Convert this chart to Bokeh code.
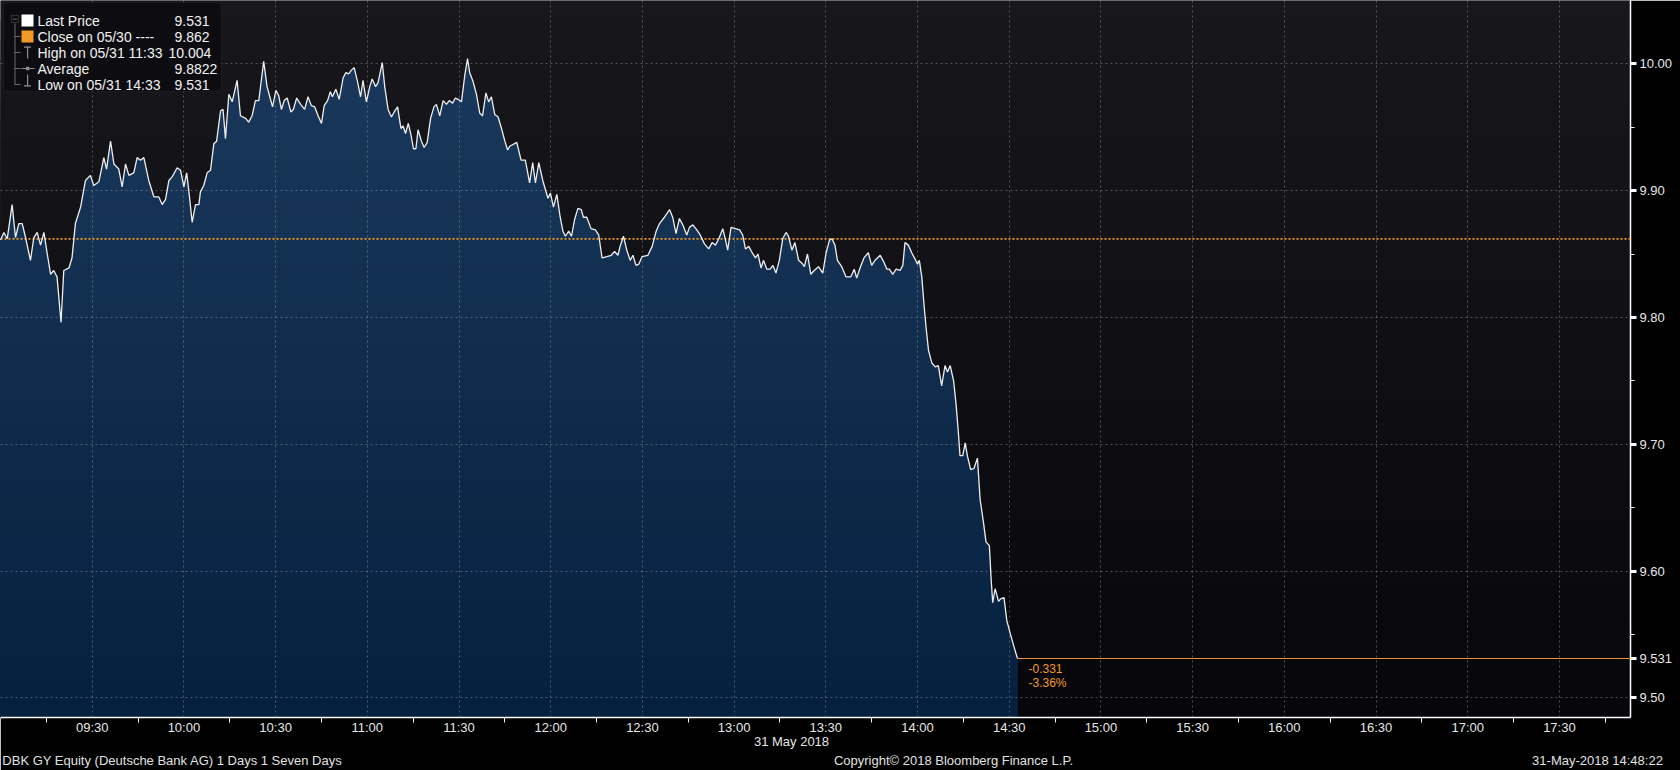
import numpy as np
from bokeh.plotting import figure
from bokeh.models import Range1d, FixedTicker, NumeralTickFormatter, Label, BoxAnnotation, Span, LinearAxis
from bokeh.embed import file_html
from bokeh.resources import INLINE

# ---------------- data (minutes after 09:00, price in EUR) ----------------
t_0900_0925 = [0.0, 1.1, 2.2, 3.8, 4.9, 6.0, 7.1, 8.2, 9.8, 10.9,
               12.0, 13.1, 14.2, 15.3, 16.4, 17.4, 18.5, 19.8, 20.7, 22.4,
               23.4, 24.5, 26.2, 27.8, 29.4, 30.5, 32.2, 33.8, 34.7, 36.0,
               37.1, 38.7, 39.8, 40.9, 42.0, 43.6, 44.7, 45.8, 46.9, 48.5,
               50.2, 51.8, 52.9, 54.0, 55.1, 56.2, 57.8, 58.9, 60.0, 60.9,
               61.6, 62.7, 63.8, 64.9, 65.4, 66.5, 67.6, 68.7, 69.8, 70.7,
               72.0, 72.8, 73.6, 74.7, 75.8, 77.4, 78.5, 80.2, 81.2, 82.3,
               83.4, 84.5]
p_0900_0925 = [9.861, 9.867, 9.862, 9.889, 9.863, 9.874, 9.874, 9.863, 9.845, 9.863,
               9.867, 9.857, 9.867, 9.850, 9.834, 9.837, 9.832, 9.796, 9.837, 9.839,
               9.847, 9.874, 9.887, 9.908, 9.912, 9.904, 9.907, 9.926, 9.917, 9.939,
               9.921, 9.917, 9.903, 9.921, 9.912, 9.914, 9.926, 9.924, 9.926, 9.908,
               9.895, 9.895, 9.889, 9.893, 9.908, 9.911, 9.918, 9.916, 9.903, 9.914,
               9.900, 9.875, 9.889, 9.889, 9.899, 9.904, 9.914, 9.916, 9.937, 9.939,
               9.963, 9.964, 9.941, 9.976, 9.970, 9.987, 9.959, 9.957, 9.954, 9.959,
               9.971, 9.971]

t_1026_1147 = [86.1, 87.2, 88.1, 89.0, 90.1, 91.0, 91.9, 92.8, 93.8, 95.0,
               95.8, 96.9, 98.2, 99.5, 100.6, 101.7, 102.8, 103.9, 105.0, 105.9,
               107.0, 107.9, 108.6, 109.7, 110.8, 112.1, 113.0, 113.9, 114.8, 115.7,
               116.8, 117.8, 118.6, 119.7, 120.8, 121.6, 122.7, 123.5, 124.9, 125.7,
               126.8, 127.9, 128.8, 129.9, 131.0, 131.7, 132.5, 133.4, 134.2, 135.1,
               135.9, 136.6, 137.7, 138.6, 139.6, 140.7, 141.8, 142.6, 143.7, 144.8,
               145.9, 146.8, 147.9, 148.8, 149.7, 150.8, 151.9, 152.8, 153.5, 154.6,
               155.7, 156.8, 157.7, 158.8, 159.7, 160.6, 161.7, 162.8, 163.9, 165.0,
               165.9, 166.6]
p_1026_1147 = [10.002, 9.982, 9.974, 9.966, 9.979, 9.975, 9.964, 9.971, 9.973, 9.962,
               9.964, 9.973, 9.968, 9.964, 9.974, 9.967, 9.966, 9.959, 9.953, 9.967,
               9.971, 9.978, 9.974, 9.980, 9.972, 9.989, 9.993, 9.992, 9.995, 9.997,
               9.986, 9.974, 9.987, 9.970, 9.982, 9.988, 9.982, 9.985, 10.001, 9.982,
               9.964, 9.958, 9.962, 9.966, 9.949, 9.951, 9.945, 9.953, 9.945, 9.933,
               9.933, 9.948, 9.939, 9.934, 9.938, 9.957, 9.966, 9.968, 9.959, 9.971,
               9.968, 9.971, 9.969, 9.973, 9.972, 9.970, 9.991, 10.004, 9.993, 9.986,
               9.976, 9.961, 9.959, 9.977, 9.970, 9.974, 9.960, 9.958, 9.949, 9.939,
               9.932, 9.935]

t_1149_1309 = [168.9, 170.3, 171.7, 173.1, 174.1, 175.0, 176.1, 177.4, 179.1, 179.9,
               180.9, 182.0, 183.1, 184.0, 184.8, 185.9, 186.8, 187.8, 188.9, 190.0,
               190.7, 191.8, 193.2, 194.6, 195.7, 196.8, 198.4, 199.8, 200.9, 202.0,
               202.7, 203.8, 204.9, 206.0, 206.9, 207.9, 208.8, 209.9, 211.8, 213.2,
               214.5, 215.6, 217.2, 218.9, 219.9, 221.0, 222.1, 223.2, 224.5, 225.4,
               226.5, 227.8, 228.9, 230.3, 231.7, 232.8, 233.9, 235.0, 236.3, 237.2,
               237.9, 239.0, 240.4, 241.8, 242.8, 243.7, 244.8, 245.9, 247.0, 247.8,
               248.8]
p_1149_1309 = [9.938, 9.924, 9.924, 9.906, 9.922, 9.906, 9.922, 9.908, 9.894, 9.898,
               9.887, 9.897, 9.879, 9.868, 9.864, 9.868, 9.864, 9.877, 9.886, 9.885,
               9.879, 9.879, 9.870, 9.869, 9.865, 9.847, 9.848, 9.849, 9.852, 9.849,
               9.856, 9.864, 9.853, 9.845, 9.849, 9.841, 9.842, 9.848, 9.849, 9.856,
               9.868, 9.874, 9.879, 9.885, 9.879, 9.866, 9.878, 9.873, 9.865, 9.871,
               9.873, 9.869, 9.865, 9.858, 9.854, 9.859, 9.857, 9.862, 9.870, 9.861,
               9.853, 9.871, 9.870, 9.869, 9.865, 9.854, 9.856, 9.851, 9.847, 9.850,
               9.839]

t_1310_1433 = [249.6, 250.7, 251.8, 252.7, 253.7, 254.8, 255.9, 257.0, 257.8, 258.9,
               259.9, 261.1, 262.1, 263.0, 264.0, 265.1, 266.2, 267.6, 269.0, 270.1,
               271.2, 272.0, 273.0, 273.8, 275.2, 276.6, 278.2, 279.3, 280.1, 281.2,
               282.5, 283.9, 285.0, 286.1, 287.8, 288.9, 290.0, 290.8, 291.9, 293.0,
               294.3, 295.2, 295.9, 297.0, 298.1, 299.2, 300.0, 300.6, 301.4, 302.2,
               302.8, 303.6, 304.7, 305.8, 306.8, 307.9, 309.0, 309.8, 310.7, 311.8,
               312.6, 313.4, 313.9, 314.8, 315.6, 316.3, 317.4, 318.5, 319.6, 320.5,
               321.6, 322.4, 323.5, 324.1, 324.6, 325.4, 326.5, 327.2, 328.3, 329.2,
               330.3, 331.6, 332.7]
p_1310_1433 = [9.845, 9.838, 9.838, 9.841, 9.835, 9.845, 9.862, 9.867, 9.864, 9.853,
               9.859, 9.845, 9.843, 9.840, 9.850, 9.834, 9.837, 9.840, 9.835, 9.851,
               9.861, 9.862, 9.857, 9.845, 9.840, 9.832, 9.832, 9.838, 9.831, 9.839,
               9.847, 9.851, 9.841, 9.845, 9.849, 9.844, 9.838, 9.838, 9.834, 9.838,
               9.837, 9.841, 9.859, 9.857, 9.851, 9.846, 9.842, 9.845, 9.832, 9.808,
               9.792, 9.774, 9.764, 9.761, 9.762, 9.746, 9.762, 9.757, 9.762, 9.750,
               9.732, 9.708, 9.691, 9.691, 9.701, 9.691, 9.680, 9.681, 9.689, 9.656,
               9.638, 9.623, 9.620, 9.593, 9.575, 9.586, 9.576, 9.578, 9.579, 9.561,
               9.551, 9.540, 9.531]

prev_close = 9.862
avg_price = 9.8822
x_tick_minutes = [30, 60, 90, 120, 150, 180, 210, 240, 270, 300, 330, 360, 390, 420, 450, 480, 510]
x_tick_labels = ["09:30", "10:00", "10:30", "11:00", "11:30", "12:00", "12:30", "13:00", "13:30",
                 "14:00", "14:30", "15:00", "15:30", "16:00", "16:30", "17:00", "17:30"]
y_ticks = [9.50, 9.60, 9.70, 9.80, 9.90, 10.00]
date_label = "31 May 2018"
footer_texts = ["DBK GY Equity (Deutsche Bank AG) 1 Days 1 Seven Days",
                "Copyright\u00a9 2018 Bloomberg Finance L.P.",
                "31-May-2018 14:48:22"]

minutes = np.array(t_0900_0925 + t_1026_1147 + t_1149_1309 + t_1310_1433)
price = np.array(p_0900_0925 + p_1026_1147 + p_1149_1309 + p_1310_1433)
assert len(minutes) == len(price)

last_t, last_p = float(minutes[-1]), float(price[-1])
hi_i, lo_i = int(price.argmax()), int(price.argmin())


def hhmm(m):
    m = int(round(m)) + 540
    return f"{m // 60:02d}:{m % 60:02d}"


# ---------------- layout ----------------
W, H = 1680, 770
FW, FH = 1630, 717
PX_PER_MIN, PX_PER_EUR = 3.0567, 1268.0
X_LO = 0.0
X_HI = X_LO + FW / PX_PER_MIN
Y_HI = 10.0 + 63.3 / PX_PER_EUR
Y_LO = Y_HI - FH / PX_PER_EUR
FONT = "Liberation Sans"
ORANGE = "#f39a26"


def dx(r):   # reference pixel x -> minutes
    return r / PX_PER_MIN


def dy(r):   # reference pixel y -> price
    return 10.0 - (r - 63.3) / PX_PER_EUR


def mix(c1, c2, f):
    a = [int(c1[i:i + 2], 16) for i in (1, 3, 5)]
    b = [int(c2[i:i + 2], 16) for i in (1, 3, 5)]
    return "#" + "".join(f"{int(round(x + (y - x) * f)):02x}" for x, y in zip(a, b))


p = figure(frame_width=FW, frame_height=FH, x_range=Range1d(X_LO, X_HI), y_range=Range1d(Y_LO, Y_HI),
           output_backend="svg", toolbar_location=None, y_axis_location="right",
           min_border_left=0, min_border_top=0, min_border_right=W - FW, min_border_bottom=H - FH,
           border_fill_color="#000000", background_fill_color="#111115", outline_line_color=None)
p.extra_x_ranges = {"px": Range1d(0, FW)}

# background gradient
K = 36
tops = np.linspace(Y_HI, Y_LO, K + 1)[:-1]
bg_cols = [mix("#18181c", "#07070b", (k + 0.5) / K) for k in range(K)]
p.quad(left=X_LO, right=X_HI, bottom=Y_LO, top=tops, fill_color=bg_cols, line_color=None, level="image")

# area gradient
fill_cols = [mix("#1b3a5e", "#05203e", (k + 0.5) / K) for k in range(K)]
for k, top in enumerate(tops):
    if k + 1 < K and tops[k + 1] >= price.max():
        continue
    p.varea(x=minutes, y1=Y_LO, y2=np.minimum(price, top), fill_color=fill_cols[k], level="glyph")

# grid
p.xgrid.ticker = FixedTicker(ticks=x_tick_minutes)
p.ygrid.ticker = FixedTicker(ticks=y_ticks)
p.grid.grid_line_color = "#8a8a8a"
p.grid.grid_line_alpha = 0.55
p.grid.grid_line_dash = "2 3"
p.grid.grid_line_width = 1
p.grid.level = "guide"

# previous close dotted line
p.add_layout(Span(location=prev_close, dimension="width", line_color=ORANGE,
                  line_dash="2 2", line_width=1.8))

# price line
p.line(minutes, price, line_color="#eeeeee", line_width=1.3, level="overlay")
p.segment(x0=[last_t], y0=[last_p], x1=[X_HI], y1=[last_p], line_color="#e8923a",
          line_width=1.2, level="overlay")

# main x axis
xa = p.xaxis[0]
xa.ticker = FixedTicker(ticks=x_tick_minutes,
                        minor_ticks=[t - 15 for t in x_tick_minutes] + [x_tick_minutes[-1] + 15])
xa.major_label_overrides = {t: s for t, s in zip(x_tick_minutes, x_tick_labels)}
xa.axis_line_color = "white"
xa.axis_line_width = 1.5
xa.major_tick_out = 0
xa.major_tick_in = 0
xa.minor_tick_out = 5
xa.minor_tick_in = 0
xa.minor_tick_line_color = "white"
xa.major_label_standoff = -3
xa.axis_label_standoff = 0
xa.major_label_text_color = "#e6e6e6"
xa.major_label_text_font = FONT
xa.major_label_text_font_size = "13px"


def text_axis(ticks, labels, standoff, color="#e0e0e0"):
    ax = LinearAxis(x_range_name="px", ticker=FixedTicker(ticks=ticks, minor_ticks=[]),
                    major_label_overrides={t: s for t, s in zip(ticks, labels)},
                    axis_line_color=None, major_tick_line_color=None, minor_tick_line_color=None,
                    major_tick_out=0, major_tick_in=0, minor_tick_out=0, minor_tick_in=0,
                    major_label_standoff=standoff, axis_label_standoff=0,
                    major_label_text_color=color,
                    major_label_text_font=FONT, major_label_text_font_size="13px")
    p.add_layout(ax, "below")


# date line and footer line (positions in frame pixels)
text_axis([791], [date_label], -4, "#e6e6e6")
text_axis([172, 953, 1597], footer_texts, 1)

# right axis
ya = p.yaxis[0]
ya.ticker = FixedTicker(ticks=y_ticks + [last_p], minor_ticks=[v + 0.05 for v in y_ticks[:-1]])
ya.formatter = NumeralTickFormatter(format="0.00")
ya.major_label_overrides = {last_p: f"{last_p:.3f}"}
ya.axis_line_color = "white"
ya.axis_line_width = 1.5
ya.major_tick_out = 6
ya.major_tick_in = 0
ya.major_tick_line_width = 3
ya.major_tick_line_color = "white"
ya.minor_tick_out = 4
ya.minor_tick_in = 0
ya.minor_tick_line_color = "white"
ya.major_label_standoff = 3
ya.axis_label_standoff = 0
ya.major_label_text_color = "#e6e6e6"
ya.major_label_text_font = FONT
ya.major_label_text_font_size = "13px"


def dlabel(rx, ry, text, size="14px", color="#f2f2f2"):
    p.add_layout(Label(x=dx(rx), y=dy(ry), text=text, text_font=FONT,
                       text_font_size=size, text_color=color,
                       text_baseline="middle", level="overlay"))


def dbox(l, r, t, b, color, alpha=1.0, line=None, **kw):
    p.add_layout(BoxAnnotation(left=dx(l), right=dx(r), top=dy(t), bottom=dy(b),
                               fill_color=color, fill_alpha=alpha,
                               line_color=line, level="overlay", **kw))


# legend box
dbox(3, 221, 2, 91, "#0c0c10", 0.92, line="#34343a", border_radius=4)
GRAY = "#8c8c8c"
dbox(11, 18, 15, 22, None, 0.0, line=GRAY)
dbox(12.5, 16.5, 18.2, 18.9, GRAY)
dbox(14, 15, 23, 84.5, "#6a6a6a")
for ry in (36, 52, 68, 84):
    dbox(14, 20, ry - 0.4, ry + 0.4, "#6a6a6a")
dbox(21, 33, 14, 26, "#ffffff")
dbox(21, 33, 30, 42, ORANGE)
dbox(26.5, 27.7, 46, 58, GRAY)
dbox(23.5, 30.5, 46, 47.2, GRAY)
dbox(21, 34, 67.6, 68.6, GRAY)
dbox(25.5, 28.8, 66.3, 69.8, GRAY)
dbox(26.5, 27.7, 74, 86, GRAY)
dbox(23.5, 30.5, 84.8, 86, GRAY)

leg_rows = [
    ("Last Price", f"{last_p:.3f}", 20.7, 174),
    ("Close on 05/30 ----", f"{prev_close:.3f}", 36.2, 174),
    (f"High on 05/31 {hhmm(minutes[hi_i])}", f"{price[hi_i]:.3f}", 52.3, 168),
    ("Average", f"{avg_price:.4f}", 68.3, 174),
    (f"Low on 05/31 {hhmm(minutes[lo_i])}", f"{price[lo_i]:.3f}", 84.2, 174),
]
for name, val, ry, vx in leg_rows:
    dlabel(37, ry, name)
    dlabel(vx, ry, val)

# change labels
chg = last_p - prev_close
for txt, off in ((f"{chg:.3f}", -10), (f"{chg / prev_close * 100:.2f}%", -25)):
    p.add_layout(Label(x=last_t, y=last_p, x_offset=11, y_offset=off, text=txt, text_font=FONT,
                       text_font_size="12px", text_color=ORANGE, text_baseline="middle", level="overlay"))

open("out.html", "w").write(file_html(p, INLINE))
